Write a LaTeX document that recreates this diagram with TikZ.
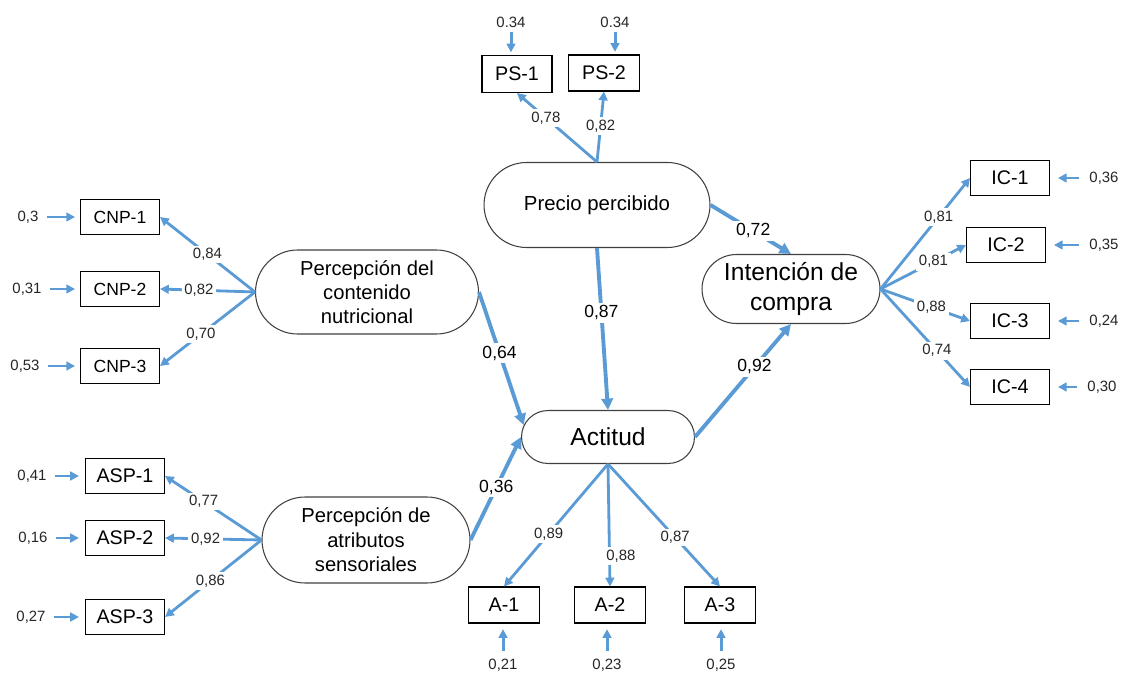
\documentclass[tikz,border=0pt]{standalone}
\usepackage{fontspec}
\setmainfont{Liberation Sans}
\usepackage{tikz}
\usetikzlibrary{arrows.meta, shapes.misc}
\usepackage{xcolor}
\definecolor{azulsem}{RGB}{91,155,213}
\definecolor{bordelat}{RGB}{64,64,64}

\begin{document}
\begin{tikzpicture}[
        x=0.02cm, y=-0.02cm,
        indicador/.style={
            rectangle,
            draw=black,
            line width=0.6pt,
            minimum width=1.58cm,
            minimum height=0.71cm,
            inner sep=0pt,
            font=\fontsize{11.2}{13}\selectfont
        },
        latente/.style={
            rounded rectangle,
            draw=bordelat,
            line width=0.6pt,
            align=center,
            inner sep=0pt,
            fill=white
        },
        carga/.style={
            draw=azulsem,
            -{Triangle[length=5pt,width=5pt]},
            line width=1.6pt
        },
        camino/.style={
            draw=azulsem,
            -{Triangle[length=6.5pt,width=6.5pt]},
            line width=2.2pt
        },
        flechaerror/.style={
            draw=azulsem,
            -{Triangle[length=5pt,width=5pt]},
            line width=1.7pt,
            shorten <=3pt,
            shorten >=2.8pt
        },
        valor/.style={
            font=\fontsize{8.5}{10}\selectfont,
            text=black!85,
            fill=white,
            inner sep=1.5pt
        },
        coef/.style={
            font=\fontsize{10}{12}\selectfont,
            fill=white,
            inner sep=1.5pt
        }
    ]

    \useasboundingbox (0,0) rectangle (1122,675);

    % variables latentes
    \node[latente, minimum width=4.52cm, minimum height=1.7cm,
        font=\fontsize{11.6}{14}\selectfont] (precio) at (597,205) {Precio percibido};
    \node[latente, minimum width=4.46cm, minimum height=1.68cm,
        font=\fontsize{11.5}{13.6}\selectfont] (cnp) at (367,292)
        {Percepción del\\contenido\\nutricional};
    \node[latente, minimum width=4.16cm, minimum height=1.72cm,
        font=\fontsize{11.5}{14}\selectfont] (asp) at (366,540)
        {Percepción de\\atributos\\sensoriales};
    \node[latente, minimum width=3.46cm, minimum height=1.06cm,
        font=\fontsize{14}{17}\selectfont] (actitud) at (608,437) {Actitud};
    \node[latente, minimum width=3.56cm, minimum height=1.38cm,
        font=\fontsize{14}{17}\selectfont] (intencion) at (791,289)
        {Intención de\\compra};

    % indicadores
    \node[indicador, font=\fontsize{10}{12}\selectfont] (cnp1) at (120,217) {CNP-1};
    \node[indicador, font=\fontsize{10}{12}\selectfont] (cnp2) at (120,289) {CNP-2};
    \node[indicador, font=\fontsize{10}{12}\selectfont] (cnp3) at (120,366) {CNP-3};

    \node[indicador] (asp1) at (125,476) {ASP-1};
    \node[indicador] (asp2) at (125,538) {ASP-2};
    \node[indicador] (asp3) at (125,617) {ASP-3};

    \node[indicador, minimum width=1.4cm, minimum height=0.74cm] (ps1) at (517,74) {PS-1};
    \node[indicador, minimum width=1.42cm, minimum height=0.72cm] (ps2) at (604,73) {PS-2};

    \node[indicador] (ic1) at (1010,178) {IC-1};
    \node[indicador] (ic2) at (1006,245) {IC-2};
    \node[indicador] (ic3) at (1010,321) {IC-3};
    \node[indicador] (ic4) at (1010,387) {IC-4};

    \node[indicador, minimum width=1.42cm, minimum height=0.72cm] (a1) at (504,605) {A-1};
    \node[indicador, minimum width=1.42cm, minimum height=0.72cm] (a2) at (610,605) {A-2};
    \node[indicador, minimum width=1.42cm, minimum height=0.72cm] (a3) at (720,605) {A-3};

    % errores
    \node[valor] (ecnp1) at (28,217) {0,3};
    \node[valor] (ecnp2) at (27,289) {0,31};
    \node[valor] (ecnp3) at (25,366) {0,53};
    \node[valor] (easp1) at (32,476) {0,41};
    \node[valor] (easp2) at (33,538) {0,16};
    \node[valor] (easp3) at (31,617) {0,27};
    \node[valor] (eps1) at (511,22) {0.34};
    \node[valor] (eps2) at (615,22) {0.34};
    \node[valor] (eic1) at (1104,178) {0,36};
    \node[valor] (eic2) at (1104,245) {0,35};
    \node[valor] (eic3) at (1104,321) {0,24};
    \node[valor] (eic4) at (1102,387) {0,30};
    \node[valor] (ea1) at (503,665) {0,21};
    \node[valor] (ea2) at (607,665) {0,23};
    \node[valor] (ea3) at (721,665) {0,25};

    \draw[flechaerror] (ecnp1) -- (cnp1);
    \draw[flechaerror] (ecnp2) -- (cnp2);
    \draw[flechaerror] (ecnp3) -- (cnp3);
    \draw[flechaerror, shorten >=3.4pt] (easp1) -- (asp1);
    \draw[flechaerror, shorten >=3.4pt] (easp2) -- (asp2);
    \draw[flechaerror, shorten >=3.4pt] (easp3) -- (asp3);
    \draw[flechaerror, shorten <=1pt, shorten >=1.5pt] (eps1) -- (eps1 |- ps1.north);
    \draw[flechaerror, shorten <=1pt, shorten >=1.5pt] (eps2) -- (eps2 |- ps2.north);
    \draw[flechaerror, shorten <=4pt, shorten >=4.5pt] (eic1) -- (ic1);
    \draw[flechaerror, shorten <=4pt, shorten >=4.5pt] (eic2) -- (ic2);
    \draw[flechaerror, shorten <=4pt, shorten >=4.5pt] (eic3) -- (ic3);
    \draw[flechaerror, shorten <=4pt, shorten >=4.5pt] (eic4) -- (ic4);
    \draw[flechaerror, shorten <=2.5pt, shorten >=3.2pt] (ea1) -- (ea1 |- a1.south);
    \draw[flechaerror, shorten <=2.5pt, shorten >=3.2pt] (ea2) -- (ea2 |- a2.south);
    \draw[flechaerror, shorten <=2.5pt, shorten >=3.2pt] (ea3) -- (ea3 |- a3.south);

    % cargas factoriales
    \draw[carga] (cnp.west) -- node[valor, pos=0.5]{0,84} (cnp1.east);
    \draw[carga] (cnp.west) -- node[valor, pos=0.59]{0,82} (cnp2.east);
    \draw[carga] (cnp.west) -- node[valor, pos=0.57]{0,70} (cnp3.east);

    \draw[carga] (asp.west) -- node[valor, pos=0.6]{0,77} (asp1.east);
    \draw[carga] (asp.west) -- node[valor, pos=0.58]{0,92} (asp2.east);
    \draw[carga] (asp.west) -- node[valor, pos=0.53]{0,86} (asp3.east);

    \draw[carga] (precio.north) -- node[valor, pos=0.64]{0,78} (ps1.south);
    \draw[carga] (precio.north) -- node[valor, pos=0.51]{0,82} (ps2.south);

    \draw[carga] (intencion.east) -- node[valor, pos=0.65]{0,81} (ic1.west);
    \draw[carga] (intencion.east) -- node[valor, pos=0.62]{0,81} (ic2.west);
    \draw[carga] (intencion.east) -- node[valor, pos=0.57]{0,88} (ic3.west);
    \draw[carga] (intencion.east) -- node[valor, pos=0.63]{0,74} (ic4.west);

    \draw[carga] (actitud.south) -- node[valor, pos=0.57]{0,89} (a1.north);
    \draw[carga] (actitud.south) -- node[valor, pos=0.75, xshift=6.5pt]{0,88} (a2.north);
    \draw[carga] (actitud.south) -- node[valor, pos=0.6]{0,87} (a3.north);

    % relaciones estructurales
    \draw[camino] (precio.east) -- node[coef, pos=0.53]{0,72} (intencion.north);
    \draw[camino] (precio.south) -- node[coef, pos=0.4]{0,87} (actitud.north);
    \draw[camino] (cnp.east) -- node[coef, pos=0.46]{0,64} (actitud.172);
    \draw[camino] (asp.east) -- node[coef, pos=0.51]{0,36} (actitud.west);
    \draw[camino] (actitud.east) -- node[coef, pos=0.62]{0,92} (intencion.south);

\end{tikzpicture}
\end{document}
